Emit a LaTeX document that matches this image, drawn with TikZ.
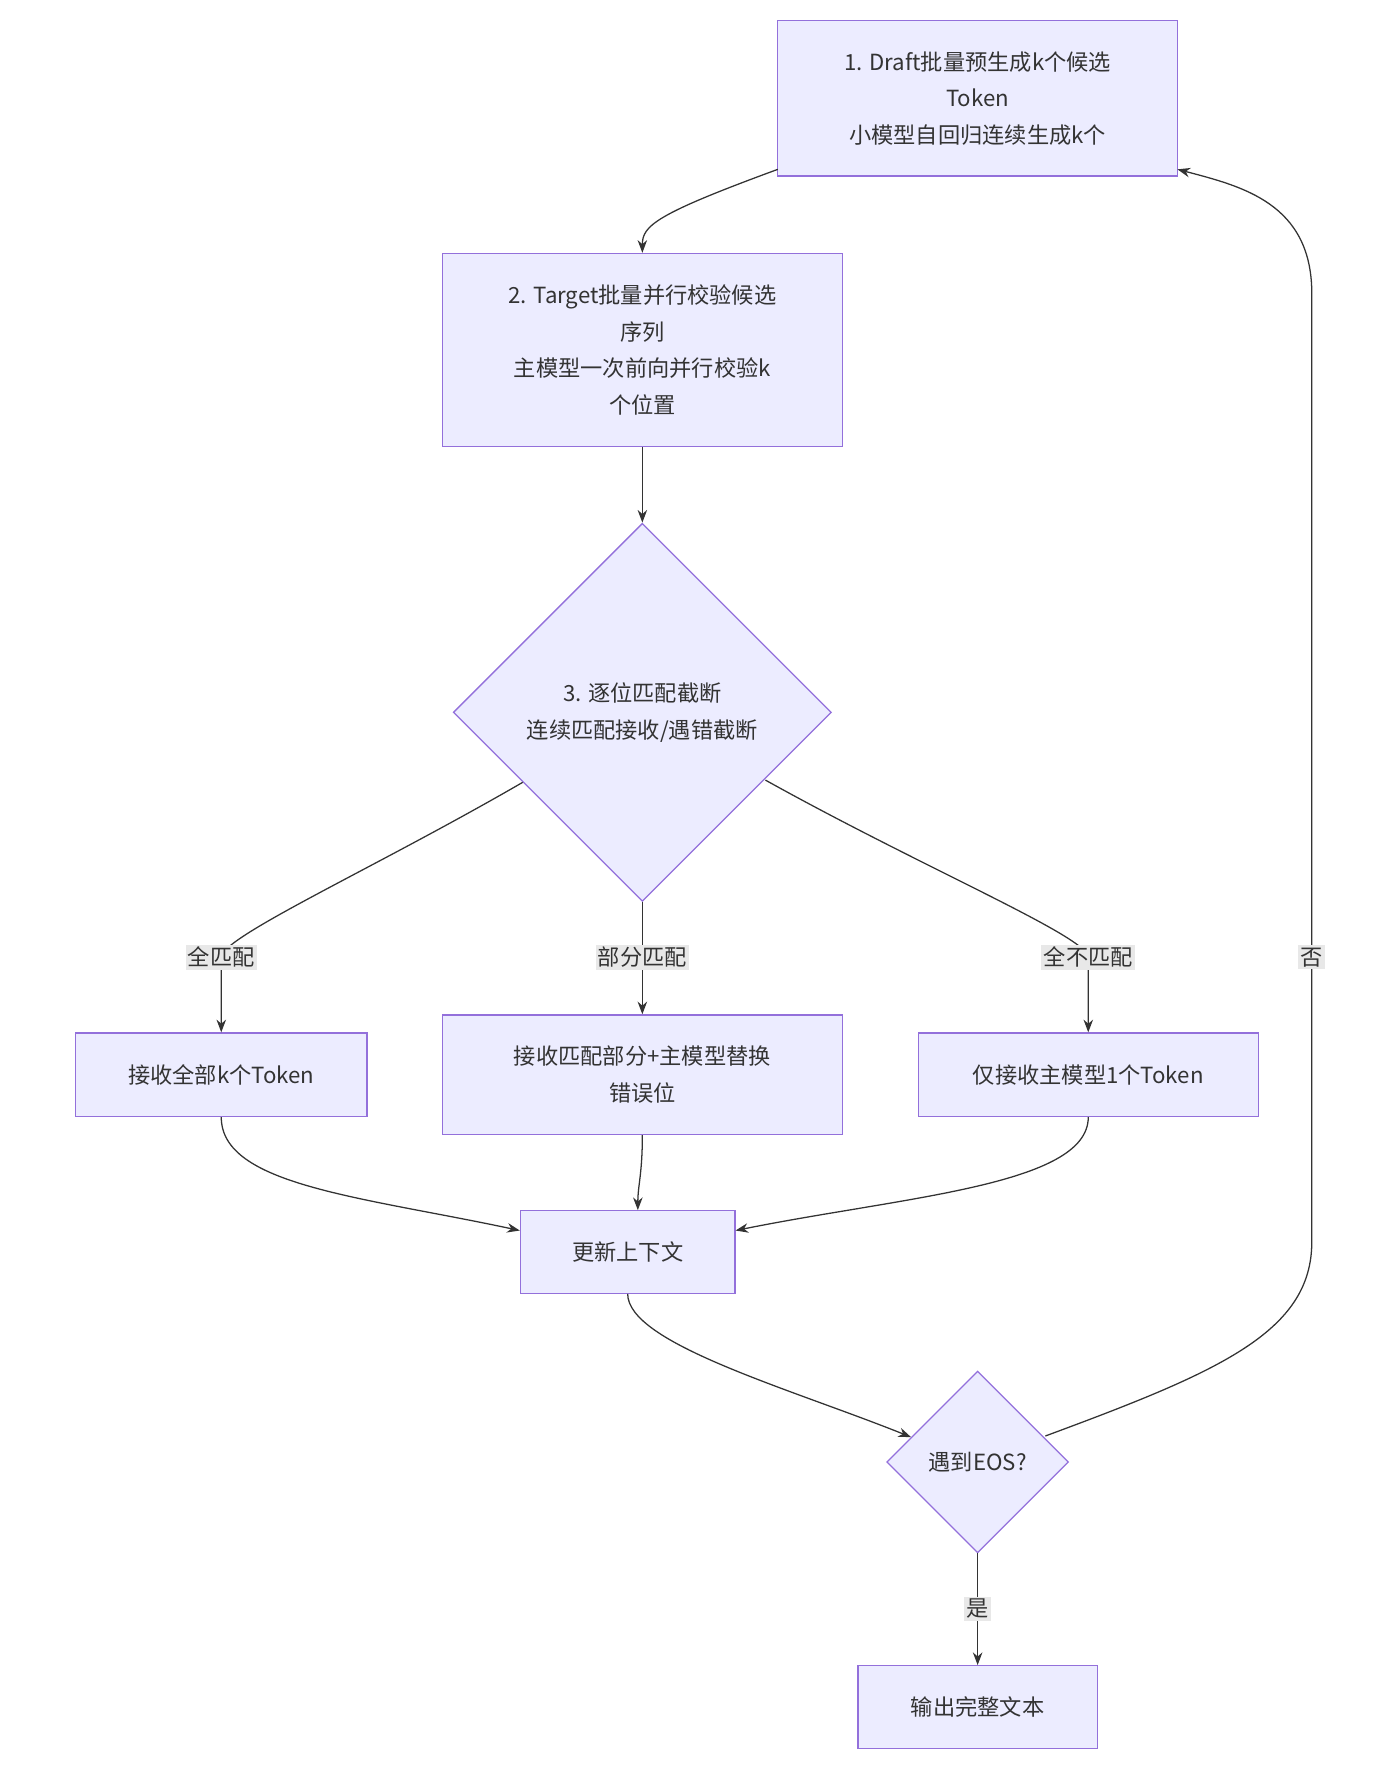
\documentclass[tikz,border=0pt]{standalone}
\usepackage{fontspec}
\setmainfont{Noto Sans CJK SC}
\usetikzlibrary{shapes.geometric,arrows.meta}
\definecolor{boxfill}{HTML}{ECECFF}
\definecolor{boxline}{HTML}{9370DB}
\definecolor{edge}{HTML}{333333}
\definecolor{lblbg}{HTML}{E8E8E8}
\tikzset{
  stepbox/.style={draw=boxline,fill=boxfill,line width=0.8pt,align=center,inner sep=0pt},
  decision/.style={draw=boxline,fill=boxfill,line width=0.8pt,shape=diamond,aspect=1,inner sep=0pt},
  flow/.style={draw=edge,line width=0.8pt,-{Stealth[length=8pt,width=6pt]}},
  lbl/.style={fill=lblbg,inner sep=1.5pt,text=edge},
}
\begin{document}
\begin{tikzpicture}[x=0.025cm,y=-0.025cm,font=\fontsize{14}{23}\selectfont,text=edge]
  \useasboundingbox (0,0) rectangle (1240,1567);
  %boxes
  \node[stepbox,minimum width=354*0.025cm,minimum height=138*0.025cm] (draft) at (866,87) {1. Draft批量预生成k个候选\\Token\\小模型自回归连续生成k个};
  \node[stepbox,minimum width=354*0.025cm,minimum height=171*0.025cm] (target) at (569,310) {2. Target批量并行校验候选\\序列\\主模型一次前向并行校验k\\个位置};
  \node[decision,minimum size=335*0.025cm] (match) at (569,631) {};
  \node[align=center] at (match) {3. 逐位匹配截断\\连续匹配接收/遇错截断};
  \node[stepbox,minimum width=258*0.025cm,minimum height=74*0.025cm] (all) at (196,952) {接收全部k个Token};
  \node[stepbox,minimum width=354*0.025cm,minimum height=106*0.025cm] (part) at (569,952) {接收匹配部分+主模型替换\\错误位};
  \node[stepbox,minimum width=301*0.025cm,minimum height=74*0.025cm] (none) at (964,952) {仅接收主模型1个Token};
  \node[stepbox,minimum width=190*0.025cm,minimum height=73*0.025cm] (ctx) at (556,1109) {更新上下文};
  \node[decision,minimum size=161*0.025cm] (eos) at (866,1295) {};
  \node at (eos) {遇到EOS?};
  \node[stepbox,minimum width=212*0.025cm,minimum height=73*0.025cm] (out) at (866,1512) {输出完整文本};
  %edges
  \coordinate (lall) at (196,848);
  \coordinate (lnone) at (964,848);
  \coordinate (lno) at (1162,848);
  \draw[flow] (689,150) .. controls (580,190) and (569,200) .. (target.north);
  \draw[flow] (target) -- (match);
  \draw[flow] (463,693) .. controls (330,770) and (196,830) .. (lall) node[lbl]{全匹配} .. controls (196,870) .. (all.north);
  \draw[flow] (match.south) -- (569,848) node[lbl]{部分匹配} -- (part.north);
  \draw[flow] (678,691) .. controls (820,770) and (964,830) .. (lnone) node[lbl]{全不匹配} .. controls (964,870) .. (none.north);
  \draw[flow] (all.south) .. controls (196,1050) and (320,1060) .. (ctx.west |- 0,1090);
  \draw[flow] (part.south) .. controls (569,1040) and (565,1050) .. (ctx.north -| 565,0);
  \draw[flow] (none.south) .. controls (964,1050) and (800,1060) .. (ctx.east |- 0,1090);
  \draw[flow] (ctx.south) .. controls (556,1190) and (700,1230) .. (807,1273);
  \draw[flow] (926,1272) .. controls (1080,1215) and (1162,1180) .. (1162,1100) -- (lno) node[lbl]{否} -- (1162,260) .. controls (1162,180) and (1100,165) .. (1043,150);
  \draw[flow] (eos.south) -- (866,1425) node[lbl]{是} -- (out.north);
\end{tikzpicture}
\end{document}
